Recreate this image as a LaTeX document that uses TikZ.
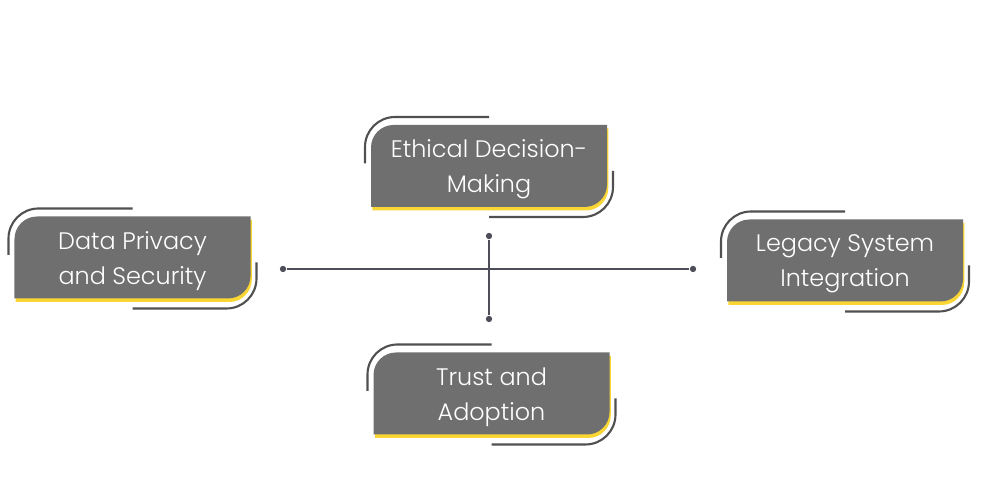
\documentclass[tikz,border=0pt]{standalone}
\usepackage{fontspec}
\setmainfont{Poppins Light}
\usetikzlibrary{positioning}
\definecolor{boxgray}{RGB}{111,111,111}
\definecolor{arcgray}{RGB}{80,80,80}
\definecolor{lineslate}{RGB}{78,78,88}
\definecolor{tabyellow}{RGB}{250,214,52}

\tikzset{
  tabtext/.style={text=white,align=center,inner sep=0pt,
    font=\fontsize{13.6}{20}\selectfont},
  tabarc/.style={draw=arcgray,line width=1.2pt},
  crossdot/.style={circle,fill=lineslate,inner sep=0pt,minimum size=3.6pt},
  crossline/.style={draw=lineslate,line width=0.7pt}
}

% #1 centre, #2 node name, #3 text
\newcommand{\challengetab}[3]{%
  \begin{scope}[shift={(#1)}]
    \fill[tabyellow,shift={(0.025,-0.07)}]
      (-2.36,-0.82) -- (-2.36,0.37) arc[start angle=180,end angle=90,radius=0.45]
      -- (2.36,0.82) -- (2.36,-0.37) arc[start angle=0,end angle=-90,radius=0.45] -- cycle;
    \fill[boxgray]
      (-2.36,-0.82) -- (-2.36,0.37) arc[start angle=180,end angle=90,radius=0.45]
      -- (2.36,0.82) -- (2.36,-0.37) arc[start angle=0,end angle=-90,radius=0.45] -- cycle;
    \draw[tabarc] (0,0.98) -- (-1.88,0.98)
      arc[start angle=90,end angle=180,radius=0.6] -- (-2.48,0.05);
    \draw[tabarc] (0,-1.02) -- (1.88,-1.02)
      arc[start angle=-90,end angle=0,radius=0.6] -- (2.48,-0.1);
  \end{scope}
  \node[tabtext] (#2) at ([yshift=-0.07cm]#1) {#3};}

\begin{document}
\begin{tikzpicture}
  \fill[white] (0,0) rectangle (20,10);

  % cross in the middle
  \node[crossdot] (west)  at (5.66,4.62) {};
  \node[crossdot] (east)  at (13.86,4.62) {};
  \node[crossdot] (north) at (9.78,5.28) {};
  \node[crossdot] (south) at (9.78,3.62) {};
  \draw[crossline] (west) -- (east);
  \draw[crossline] (north) -- (south);

  \challengetab{9.78,6.68}{ethics}{Ethical Decision-\\Making}
  \challengetab{2.65,4.85}{privacy}{Data Privacy\\and Security}
  \challengetab{16.9,4.79}{legacy}{Legacy System\\Integration}
  \challengetab{9.83,2.13}{trust}{Trust and\\Adoption}
\end{tikzpicture}
\end{document}
